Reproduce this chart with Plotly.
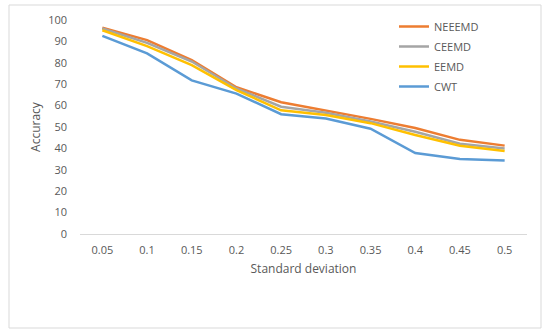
import plotly.graph_objects as go

categories = ["0.05", "0.1", "0.15", "0.2", "0.25", "0.3", "0.35", "0.4", "0.45", "0.5"]
neeemd = [96.4, 90.6, 81.3, 68.6, 61.6, 57.8, 53.8, 49.5, 44.0, 41.3]
ceemd = [96.0, 89.3, 80.6, 68.0, 59.5, 56.7, 52.6, 47.8, 42.2, 40.0]
eemd = [95.2, 87.8, 78.9, 67.2, 57.8, 55.6, 51.8, 46.3, 41.2, 38.8]
cwt = [92.6, 84.4, 71.8, 65.6, 56.0, 54.0, 49.2, 37.8, 35.0, 34.3]
y_ticks = list(range(0, 101, 10))

series = [("NEEEMD", neeemd, "#ED7D31"), ("CEEMD", ceemd, "#A5A5A5"),
          ("EEMD", eemd, "#FFC000"), ("CWT", cwt, "#5B9BD5")]

fig = go.Figure()
for name, vals, col in series:
    fig.add_trace(go.Scatter(x=categories, y=vals, name=name, mode="lines",
                             legendgroup=name,
                             line=dict(color=col, width=2.5)))

L, R, T, B = 80, 23, 20, 100
W, H = 550, 334
pw, ph = W - L - R, H - T - B

fig.update_layout(
    width=W, height=H,
    margin=dict(l=L, r=R, t=T, b=B, autoexpand=False),
    paper_bgcolor="white", plot_bgcolor="white",
    font=dict(family="Open Sans, Liberation Sans, sans-serif", size=11, color="#595959"),
    showlegend=True,
    legend=dict(x=(394 - L) / pw, y=(H - B - 12) / ph, xanchor="left", yanchor="top",
                bgcolor="rgba(0,0,0,0)", font=dict(size=11, color="#595959"),
                itemwidth=30, tracegroupgap=1),
    xaxis=dict(type="category", range=[-0.5, 9.5], showgrid=False, zeroline=False,
               showline=True, linecolor="#D9D9D9", linewidth=1, ticks="",
               ticklabelstandoff=6,
               title=dict(text="Standard deviation", font=dict(size=12, color="#595959"), standoff=8)),
    yaxis=dict(range=[0, 100], tickvals=y_ticks, showgrid=False, zeroline=False,
               showline=False, ticks="", ticklabelstandoff=12,
               title=dict(text="Accuracy", font=dict(size=12, color="#595959"), standoff=4)),
    shapes=[dict(type="rect", xref="paper", yref="paper",
                 x0=(9 - L) / pw, x1=(541 - L) / pw,
                 y0=(H - B - 328) / ph, y1=(H - B - 5) / ph,
                 line=dict(color="#D9D9D9", width=1), fillcolor="rgba(0,0,0,0)", layer="above")],
)

fig.write_html("out.html", config={"displayModeBar": False},
               post_script="document.body.style.margin='0';")
